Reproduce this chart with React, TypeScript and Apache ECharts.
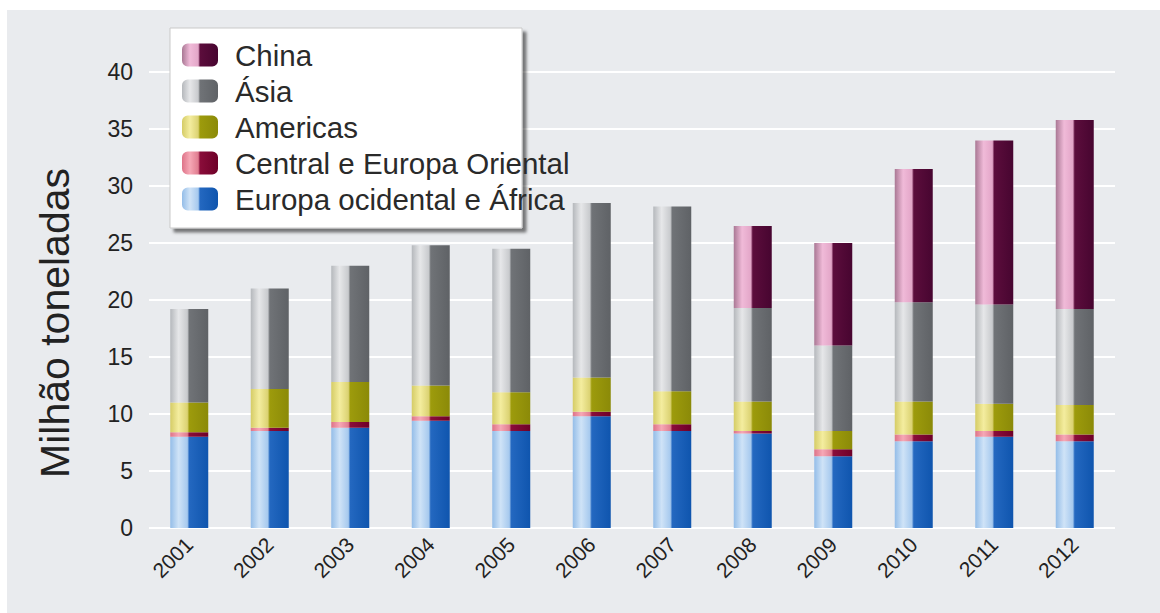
import React, { useEffect, useRef } from "react";
import * as echarts from "echarts";

const years = ["2001", "2002", "2003", "2004", "2005", "2006", "2007", "2008", "2009", "2010", "2011", "2012"];
const europaOcidental = [8.0, 8.5, 8.8, 9.4, 8.5, 9.8, 8.5, 8.3, 6.3, 7.6, 8.0, 7.6];
const centralOriental = [0.4, 0.3, 0.5, 0.4, 0.6, 0.4, 0.6, 0.2, 0.6, 0.6, 0.5, 0.6];
const americas = [2.6, 3.4, 3.5, 2.7, 2.8, 3.0, 2.9, 2.6, 1.6, 2.9, 2.4, 2.6];
const asia = [8.2, 8.8, 10.2, 12.3, 12.6, 15.3, 16.2, 8.2, 7.5, 8.7, 8.7, 8.4];
const china = [null, null, null, null, null, null, null, 7.2, 9.0, 11.7, 14.4, 16.6];
const yTicks = [0, 5, 10, 15, 20, 25, 30, 35, 40];
const yTitle = "Milhão toneladas";

const grad = (c0: string, c1: string, c2: string, c3: string, c4: string) =>
  new echarts.graphic.LinearGradient(0, 0, 1, 0, [
    { offset: 0, color: c0 },
    { offset: 0.22, color: c1 },
    { offset: 0.45, color: c2 },
    { offset: 0.5, color: c3 },
    { offset: 1, color: c4 },
  ]);

export default function App() {
  const ref = useRef<HTMLDivElement>(null);
  useEffect(() => {
    document.body.style.margin = "0";
    const chart = echarts.init(ref.current!, null, { renderer: "svg" });
    const font = "'Liberation Sans', Arial, sans-serif";
    const mk = (name: string, data: any[], color: any) => ({
      name,
      type: "bar",
      stack: "total",
      data,
      barWidth: 38,
      itemStyle: { color },
      emphasis: { disabled: true },
    });
    chart.setOption({
      animation: false,
      backgroundColor: "#ffffff",
      textStyle: { fontFamily: font },
      graphic: [
        { type: "rect", z: -10, shape: { x: 7, y: 10, width: 1153, height: 603 }, style: { fill: "#e9ebee" } },
        {
          type: "rect",
          z: 3,
          shape: { x: 170, y: 28, width: 352, height: 200 },
          style: {
            fill: "#ffffff",
            stroke: "#c9c9c9",
            lineWidth: 1,
            shadowColor: "rgba(0,0,0,0.5)",
            shadowOffsetX: 4,
            shadowOffsetY: 4,
            shadowBlur: 3,
          },
        },
        {
          type: "text",
          z: 3,
          x: 55,
          y: 323,
          rotation: Math.PI / 2,
          style: {
            text: yTitle,
            fontSize: 41,
            fill: "#222",
            fontFamily: font,
            align: "center",
            verticalAlign: "middle",
          },
        },
      ],
      grid: { left: 149, right: 45, top: 72, bottom: 85 },
      legend: {
        z: 4,
        left: 182,
        top: 40,
        padding: 0,
        orient: "vertical",
        itemWidth: 36,
        itemHeight: 23,
        itemGap: 6,
        data: ["China", "Ásia", "Americas", "Central e Europa Oriental", "Europa ocidental e África"],
        textStyle: { fontSize: 29.5, color: "#2a2a2a", lineHeight: 30, padding: [0, 0, 0, 12], fontFamily: font },
        selectedMode: false,
      },
      xAxis: {
        type: "category",
        data: years,
        axisLine: { show: false },
        axisTick: { show: false },
        axisLabel: { rotate: 45, fontSize: 21, color: "#222", margin: 13, fontFamily: font },
      },
      yAxis: {
        type: "value",
        min: yTicks[0],
        max: yTicks[yTicks.length - 1],
        interval: 5,
        axisLine: { show: false },
        axisTick: { show: false },
        axisLabel: { fontSize: 23, color: "#222", margin: 16, fontFamily: font },
        splitLine: { lineStyle: { color: "#ffffff", width: 2 } },
      },
      series: [
        mk("Europa ocidental e África", europaOcidental, grad("#94bde8", "#cfe3f7", "#a6c9ee", "#2468c0", "#0f55ae")),
        mk("Central e Europa Oriental", centralOriental, grad("#de7388", "#f6a8b6", "#e07d90", "#8a0d3a", "#6e0028")),
        mk("Americas", americas, grad("#d5cc66", "#f4ed9f", "#dbd272", "#9d9b0c", "#8b8a08")),
        mk("Ásia", asia, grad("#b5b8bc", "#e6e7e9", "#c8cacd", "#707377", "#5f6266")),
        mk("China", china, grad("#a97894", "#f0bad8", "#e3a6c8", "#5c0d3c", "#470530")),
      ],
    });
    return () => chart.dispose();
  }, []);
  return <div ref={ref} style={{ width: 1160, height: 613 }} />;
}
